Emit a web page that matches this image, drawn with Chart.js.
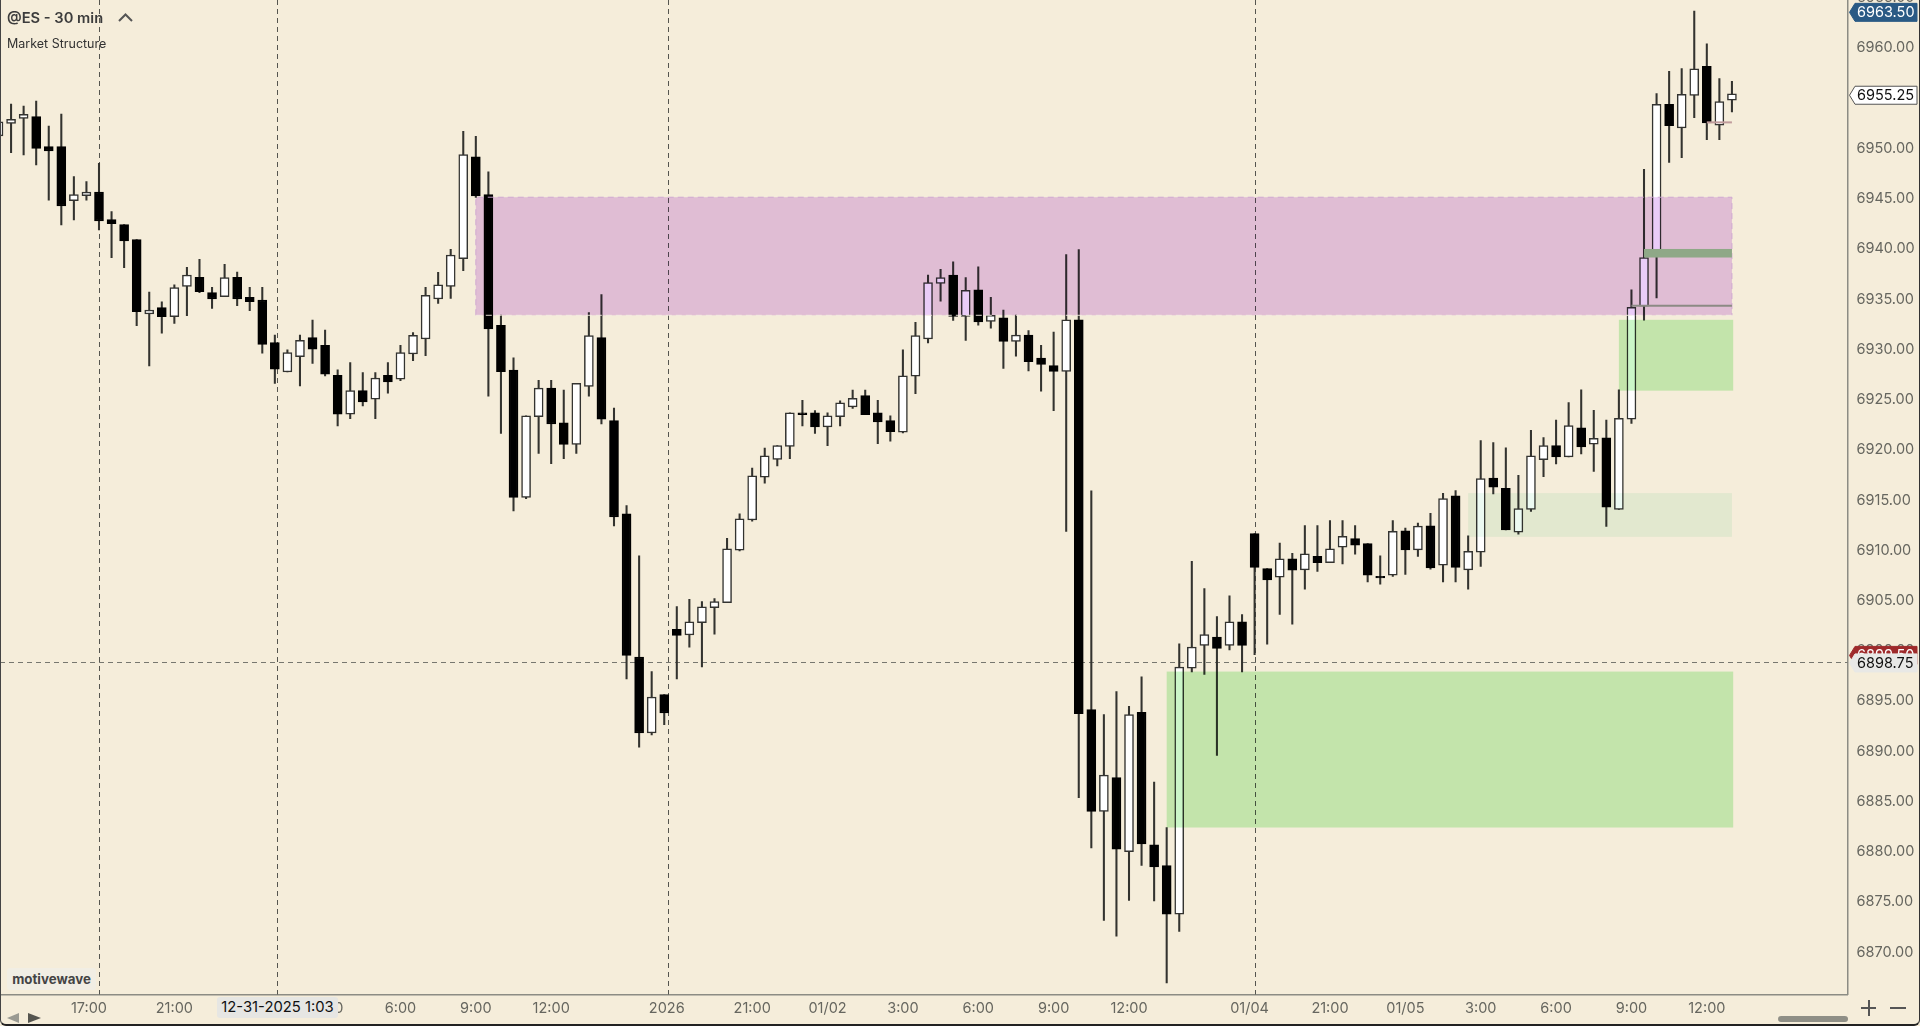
<!DOCTYPE html>
<html>
<head>
<meta charset="utf-8">
<title>@ES - 30 min</title>
<script src="https://cdn.jsdelivr.net/npm/chart.js@4"></script>
<style>
  html, body { margin: 0; padding: 0; background: #f5edda; overflow: hidden; }
  #wrap { position: relative; width: 1920px; height: 1026px; font-family: Inter, sans-serif; }
  canvas { position: absolute; left: 0; top: 0; }
  .abs { position: absolute; white-space: nowrap; }
  #title { left: 7px; top: 9px; font-size: 14.7px; line-height: 18px; font-weight: 600; color: #3c3c3c; }
  #caret { left: 118px; top: 13px; width: 15px; height: 9px; }
  #study { left: 7px; top: 36px; font-size: 12.5px; line-height: 16px; color: #333; }
  #brand { left: 7px; top: 968px; width: 89px; height: 22px; line-height: 22px; background: #f1eee4; border-radius: 3px;
           text-align: center; font-size: 13.3px; font-weight: 700; color: #444; }
  #cursorDate { left: 217px; top: 997px; width: 121px; height: 21px; line-height: 21px; background: #e6e6e3; border-radius: 3px;
                text-align: center; font-size: 14.8px; color: #111; }
  #scrollThumb { left: 1778px; top: 1016px; width: 70px; height: 6px; border-radius: 3px; background: #8f8f86; }
  .zoomBar { background: #555; }
  #frame { left: 0; top: 0; width: 1920px; height: 1026px; box-sizing: border-box; pointer-events: none;
           border-left: 1.5px solid #444; border-right: 1.5px solid #333; border-bottom: 2px solid #222; border-radius: 0 0 6px 6px; }
</style>
</head>
<body>
<div id="wrap">
  <canvas id="chart" width="1920" height="1026"></canvas>
  <div id="title" class="abs">@ES - 30 min</div>
  <svg id="caret" class="abs" viewBox="0 0 15 9"><path d="M1 8 L7.5 1.5 L14 8" fill="none" stroke="#555" stroke-width="2"/></svg>
  <div id="study" class="abs">Market Structure</div>
  <div id="brand" class="abs">motivewave</div>
  <div id="cursorDate" class="abs">12-31-2025 1:03</div>
  <svg class="abs" style="left:6px;top:1012px" width="36" height="12" viewBox="0 0 36 12">
    <path d="M1 6 L13 1 L13 11 Z" fill="#9a9a92"/><path d="M22 1 L35 6 L22 11 Z" fill="#55554f"/>
  </svg>
  <div id="scrollThumb" class="abs"></div>
  <div class="abs zoomBar" style="left:1861px;top:1007px;width:15px;height:2px"></div>
  <div class="abs zoomBar" style="left:1867.5px;top:1000px;width:2px;height:16px"></div>
  <div class="abs zoomBar" style="left:1890px;top:1007px;width:16px;height:2px"></div>
  <div id="frame" class="abs"></div>
</div>
<script>
// --- Candles (one entry per 30 min bar) ---
const opens = [
  6951.1, 6952.35, 6952.85, 6953.02, 6950.03, 6950.03, 6944.66, 6945.16, 6945.52, 6942.77,
  6942.27, 6940.78, 6933.38, 6934.01, 6933.12, 6936.13, 6937.03, 6935.5, 6935.1, 6937.03,
  6935.04, 6934.77, 6930.53, 6927.61, 6929.14, 6931.03, 6930.26, 6927.28, 6923.4, 6925.75,
  6924.89, 6927.28, 6926.88, 6929.4, 6930.89, 6934.87, 6936.13, 6938.88, 6949.03, 6945.26,
  6932.26, 6927.79, 6915.12, 6923.16, 6926.0, 6922.55, 6920.4, 6926.17, 6931.04, 6922.76,
  6913.49, 6899.24, 6891.68, 6895.5, 6902.0, 6901.43, 6902.65, 6904.15, 6904.64, 6909.88,
  6912.88, 6917.15, 6918.9, 6920.2, 6923.53, 6923.53, 6922.15, 6923.16, 6924.14, 6925.27,
  6923.53, 6922.76, 6921.62, 6927.18, 6930.89, 6936.41, 6937.24, 6933.14, 6935.78, 6932.65,
  6932.99, 6930.65, 6931.28, 6928.98, 6928.25, 6927.66, 6932.8, 6894.0, 6883.87, 6887.24,
  6879.86, 6893.74, 6880.55, 6878.49, 6873.65, 6898.14, 6900.39, 6901.22, 6900.39, 6902.74,
  6911.53, 6908.05, 6907.19, 6909.01, 6907.91, 6909.27, 6908.64, 6910.17, 6911.03, 6910.53,
  6907.28, 6907.38, 6911.8, 6909.9, 6912.29, 6908.38, 6915.28, 6907.91, 6909.67, 6917.04,
  6916.04, 6911.66, 6913.92, 6918.89, 6920.29, 6919.16, 6922.04, 6920.42, 6921.05, 6913.92,
  6922.9, 6934.17, 6939.66, 6954.25, 6951.89, 6955.14, 6958.02, 6952.16, 6954.66
];
const closes = [
  6952.5, 6952.75, 6953.25, 6949.87, 6949.6, 6944.13, 6945.26, 6945.52, 6942.63, 6942.37,
  6940.65, 6933.61, 6933.78, 6933.12, 6936.0, 6937.26, 6935.6, 6934.87, 6937.0, 6934.87,
  6934.61, 6930.36, 6927.88, 6929.53, 6930.76, 6929.87, 6927.38, 6923.4, 6925.75, 6924.63,
  6927.01, 6926.62, 6929.53, 6931.26, 6935.24, 6936.27, 6939.25, 6949.24, 6945.14, 6931.89,
  6927.63, 6915.12, 6923.24, 6926.0, 6922.43, 6920.4, 6926.49, 6931.24, 6922.92, 6913.17,
  6899.4, 6891.68, 6895.26, 6893.67, 6901.39, 6902.73, 6904.23, 6904.76, 6910.0, 6913.0,
  6917.27, 6919.26, 6920.28, 6923.53, 6923.37, 6922.15, 6923.24, 6924.54, 6924.99, 6923.37,
  6922.63, 6921.66, 6927.22, 6931.24, 6936.51, 6937.0, 6933.14, 6935.73, 6932.6, 6933.24,
  6930.65, 6931.28, 6928.64, 6928.35, 6927.66, 6932.8, 6893.6, 6883.87, 6887.49, 6880.11,
  6893.5, 6880.64, 6878.35, 6873.65, 6898.24, 6900.24, 6901.47, 6900.1, 6902.74, 6900.39,
  6908.15, 6906.92, 6909.01, 6907.88, 6909.51, 6908.64, 6910.0, 6911.26, 6910.37, 6907.38,
  6907.12, 6911.76, 6909.9, 6912.26, 6908.11, 6915.01, 6908.15, 6909.77, 6917.0, 6916.14,
  6911.89, 6914.02, 6919.26, 6920.29, 6919.16, 6922.28, 6920.15, 6921.0, 6914.15, 6923.0,
  6934.04, 6938.99, 6954.25, 6952.13, 6955.24, 6957.78, 6952.4, 6954.52, 6955.28
];
const highs = [
  6953.9, 6954.28, 6954.08, 6954.58, 6952.09, 6953.28, 6947.05, 6946.55, 6948.37, 6943.56,
  6942.27, 6940.78, 6935.57, 6934.58, 6936.27, 6938.03, 6938.82, 6936.03, 6938.32, 6937.56,
  6936.03, 6936.03, 6931.29, 6929.8, 6931.29, 6932.78, 6931.79, 6927.81, 6928.54, 6927.54,
  6927.54, 6928.54, 6930.26, 6931.52, 6936.03, 6937.53, 6939.82, 6951.56, 6951.07, 6947.53,
  6933.27, 6929.01, 6923.24, 6926.78, 6926.78, 6925.8, 6926.49, 6933.52, 6935.31, 6924.01,
  6914.31, 6909.31, 6897.78, 6895.5, 6904.27, 6904.97, 6904.76, 6905.05, 6911.06, 6913.49,
  6918.04, 6920.03, 6920.28, 6923.53, 6924.79, 6923.77, 6923.53, 6924.74, 6925.8, 6925.8,
  6924.79, 6923.24, 6929.82, 6932.55, 6937.24, 6937.83, 6938.56, 6937.0, 6938.07, 6935.04,
  6933.77, 6933.28, 6931.72, 6930.25, 6931.57, 6939.3, 6939.8, 6915.79, 6893.5, 6895.8,
  6894.33, 6897.26, 6886.8, 6882.26, 6900.54, 6908.75, 6906.06, 6903.27, 6905.33, 6903.47,
  6911.53, 6908.05, 6910.57, 6909.57, 6912.33, 6912.33, 6912.82, 6912.82, 6912.33, 6910.53,
  6909.31, 6912.82, 6912.06, 6912.56, 6913.55, 6915.54, 6915.81, 6911.3, 6920.78, 6920.58,
  6920.05, 6917.33, 6921.81, 6921.08, 6922.81, 6924.56, 6925.82, 6923.8, 6922.81, 6925.82,
  6935.78, 6947.78, 6955.31, 6957.54, 6957.81, 6963.53, 6960.28, 6956.82, 6956.54
];
const lows = [
  6949.4, 6949.43, 6949.2, 6948.21, 6944.72, 6942.24, 6942.73, 6944.72, 6941.74, 6938.99,
  6937.99, 6932.22, 6928.21, 6931.46, 6932.45, 6933.22, 6935.5, 6933.94, 6935.1, 6934.21,
  6933.71, 6929.47, 6926.48, 6927.61, 6926.22, 6928.47, 6927.21, 6922.24, 6922.97, 6924.23,
  6922.97, 6925.49, 6926.75, 6928.74, 6929.24, 6934.44, 6934.94, 6937.69, 6944.97, 6925.19,
  6921.5, 6913.78, 6915.0, 6919.5, 6918.49, 6918.98, 6919.5, 6925.19, 6922.43, 6912.28,
  6897.05, 6890.26, 6891.48, 6892.5, 6897.05, 6900.21, 6898.26, 6901.51, 6904.64, 6909.8,
  6912.76, 6916.54, 6918.25, 6918.98, 6922.23, 6921.5, 6920.28, 6922.23, 6923.97, 6923.37,
  6920.48, 6920.72, 6921.54, 6925.46, 6930.5, 6934.65, 6932.75, 6930.74, 6932.26, 6931.96,
  6927.96, 6929.18, 6927.71, 6925.71, 6923.75, 6911.73, 6885.24, 6880.25, 6873.02, 6871.45,
  6875.02, 6878.5, 6874.97, 6866.81, 6871.94, 6897.75, 6897.51, 6889.44, 6899.95, 6897.75,
  6899.46, 6900.52, 6903.47, 6902.51, 6905.99, 6907.75, 6908.64, 6908.51, 6909.47, 6906.72,
  6906.49, 6907.25, 6907.45, 6909.24, 6907.98, 6906.72, 6906.72, 6905.99, 6908.25, 6915.48,
  6911.89, 6911.46, 6913.72, 6917.2, 6918.46, 6919.16, 6919.46, 6917.7, 6912.23, 6913.92,
  6922.49, 6932.77, 6934.99, 6948.46, 6948.94, 6952.91, 6950.72, 6950.72, 6953.5
];

// --- Axis ticks ---
const priceTicks = [6870, 6875, 6880, 6885, 6890, 6895, 6900, 6905, 6910, 6915, 6920, 6925, 6930, 6935, 6940, 6945, 6950, 6955, 6960];
const timeTickBars = [7.2, 14, 26.2, 32, 38, 44, 53.2, 60, 66, 72, 78, 84, 90, 99.6, 106, 112, 118, 124, 130, 136];
const timeTickLabels = ['17:00', '21:00', '3:00', '6:00', '9:00', '12:00', '2026', '21:00', '01/02', '3:00', '6:00', '9:00', '12:00', '01/04', '21:00', '01/05', '3:00', '6:00', '9:00', '12:00'];

// --- Market structure zones (bar index -> price) ---
const zoneStartBars = [38, 117, 129, 93];
const zoneEndBars = [138, 138, 138.1, 138.1];
const zoneTops = [6945.0, 6915.55, 6932.8, 6897.79];
const zoneBottoms = [6933.25, 6911.2, 6925.75, 6882.27];
const levelStartBars = [131, 130, 136];
const levelEndBars = [138, 138, 138];
const levelHighs = [6939.85, 6934.3, 6952.55];
const levelLows = [6939.0, 6934.1, 6952.35];

// --- Session lines and price tags ---
const sessionBars = [8.03, 22.15, 53.33, 100.04];
const cursorPrice = 6898.75;
const tagPrices = [6963.5, 6955.25, 6899.5, 6898.75];

const zoneFills = ['rgb(234,204,248)', 'rgb(236,250,242)', 'rgb(203,246,200)', 'rgb(203,246,200)'];
const levelColors = ['#8fa887', '#8c8a84', '#c09c9c'];
const tagStyles = [
  { fill: '#2a5a85', stroke: '#2a5a85', text: '#ffffff' },
  { fill: '#ffffff', stroke: '#555555', text: '#111111' },
  { fill: '#9e2a2b', stroke: '#9e2a2b', text: '#ffffff' },
  { fill: '#e8e8e6', stroke: '#e8e8e6', text: '#111111' }
];

const AXIS_FONT = { family: 'Inter', size: 14.5 };

const bars = opens.map((o, i) => i);

const overlay = {
  id: 'overlay',
  beforeDraw(chart) {
    // multiply needs a painted background under the zones
    const { ctx, width, height } = chart;
    ctx.save();
    ctx.fillStyle = '#f5edda';
    ctx.fillRect(0, 0, width, height);
    ctx.restore();
  },
  beforeDatasetsDraw(chart) {
    const { ctx, chartArea: a, scales: { x, y } } = chart;
    ctx.save();
    ctx.lineWidth = 1;
    ctx.setLineDash([5, 4]);
    ctx.strokeStyle = '#55554f';
    sessionBars.forEach(b => {
      const px = Math.round(x.getPixelForValue(b)) + 0.5;
      ctx.beginPath();
      ctx.moveTo(px, a.top);
      ctx.lineTo(px, a.bottom);
      ctx.stroke();
    });
    ctx.strokeStyle = '#77776f';
    const cy = Math.round(y.getPixelForValue(cursorPrice)) + 0.5;
    ctx.beginPath();
    ctx.moveTo(a.left, cy);
    ctx.lineTo(a.right, cy);
    ctx.stroke();
    ctx.restore();
  },
  afterDatasetsDraw(chart) {
    const { ctx, scales: { x, y } } = chart;
    ctx.save();
    ctx.globalCompositeOperation = 'multiply';
    zoneStartBars.forEach((b, i) => {
      const left = x.getPixelForValue(b);
      const top = y.getPixelForValue(zoneTops[i]);
      ctx.fillStyle = zoneFills[i];
      ctx.fillRect(left, top, x.getPixelForValue(zoneEndBars[i]) - left, y.getPixelForValue(zoneBottoms[i]) - top);
    });
    ctx.globalCompositeOperation = 'source-over';
    // purple zone has a dashed edge
    ctx.setLineDash([6, 4]);
    ctx.lineWidth = 1;
    ctx.strokeStyle = 'rgba(205,165,210,0.9)';
    const l0 = x.getPixelForValue(zoneStartBars[0]);
    const t0 = y.getPixelForValue(zoneTops[0]);
    const r0 = x.getPixelForValue(zoneEndBars[0]);
    const b0 = y.getPixelForValue(zoneBottoms[0]);
    ctx.beginPath();
    ctx.moveTo(l0, b0);
    ctx.lineTo(l0, t0);
    ctx.lineTo(r0, t0);
    ctx.lineTo(r0, b0);
    ctx.stroke();
    ctx.strokeStyle = 'rgba(245,237,225,0.9)';
    ctx.beginPath();
    ctx.moveTo(l0, b0);
    ctx.lineTo(r0, b0);
    ctx.stroke();
    ctx.setLineDash([]);
    levelStartBars.forEach((b, i) => {
      const left = x.getPixelForValue(b);
      const top = y.getPixelForValue(levelHighs[i]);
      ctx.fillStyle = levelColors[i];
      ctx.fillRect(left, top, x.getPixelForValue(levelEndBars[i]) - left, Math.max(2, y.getPixelForValue(levelLows[i]) - top));
    });
    ctx.restore();
  },
  afterDraw(chart) {
    const { ctx, scales: { y } } = chart;
    ctx.save();
    ctx.font = '14.5px Inter';
    ctx.textBaseline = 'middle';
    // next tick up is cut off by the top edge
    ctx.fillStyle = '#66665f';
    ctx.fillText('6965.00', 1857, y.getPixelForValue(6965) + 1.5);
    tagPrices.forEach((p, i) => {
      const s = tagStyles[i];
      const cy = y.getPixelForValue(p) + 1;
      const h = 18;
      ctx.beginPath();
      ctx.moveTo(1849.5, cy);
      ctx.lineTo(1855, cy - h / 2);
      ctx.lineTo(1917, cy - h / 2);
      ctx.lineTo(1917, cy + h / 2);
      ctx.lineTo(1855, cy + h / 2);
      ctx.closePath();
      ctx.fillStyle = s.fill;
      ctx.fill();
      ctx.strokeStyle = s.stroke;
      ctx.lineWidth = 1;
      ctx.stroke();
      ctx.fillStyle = s.text;
      ctx.fillText(p.toFixed(2), 1857, cy + 0.5);
    });
    ctx.restore();
  }
};

new Chart(document.getElementById('chart'), {
  type: 'bar',
  plugins: [overlay],
  data: {
    datasets: [
      {
        label: 'wick',
        data: bars.map(i => ({ x: i, y: [lows[i], highs[i]] })),
        backgroundColor: '#33332f',
        borderWidth: 0,
        barThickness: 1.4,
        grouped: false,
        order: 2
      },
      {
        label: 'body',
        data: bars.map(i => ({ x: i, y: [opens[i], closes[i]] })),
        backgroundColor: bars.map(i => closes[i] >= opens[i] ? '#ffffff' : '#000000'),
        borderColor: bars.map(i => closes[i] >= opens[i] ? '#333330' : '#000000'),
        borderWidth: 1.5,
        borderSkipped: false,
        barThickness: 9,
        grouped: false,
        order: 1
      }
    ]
  },
  options: {
    responsive: false,
    animation: false,
    layout: { padding: 0 },
    plugins: { legend: { display: false }, tooltip: { enabled: false } },
    scales: {
      x: {
        type: 'linear',
        offset: false,
        min: 0.119,
        max: 147.2,
        afterBuildTicks: s => { s.ticks = timeTickBars.map(v => ({ value: v })); },
        afterFit: s => { s.height = 31.5; s.paddingLeft = 0; s.paddingRight = 0; },
        grid: { drawOnChartArea: false, drawTicks: false },
        border: { display: true, color: '#8c8c84', width: 1.5 },
        ticks: {
          autoSkip: false,
          maxRotation: 0,
          padding: 5,
          color: '#66665f',
          font: AXIS_FONT,
          callback: (v, i) => timeTickLabels[i]
        }
      },
      y: {
        position: 'right',
        min: 6865.65,
        max: 6964.63,
        afterBuildTicks: s => { s.ticks = priceTicks.map(v => ({ value: v })); },
        afterFit: s => { s.width = 72.5; s.paddingTop = 0; s.paddingBottom = 0; },
        grid: { drawOnChartArea: false, drawTicks: false },
        border: { display: true, color: '#8c8c84', width: 1.5 },
        ticks: {
          autoSkip: false,
          padding: 9,
          labelOffset: 1.5,
          color: '#66665f',
          font: AXIS_FONT,
          callback: v => v.toFixed(2)
        }
      }
    }
  }
});
</script>
</body>
</html>
